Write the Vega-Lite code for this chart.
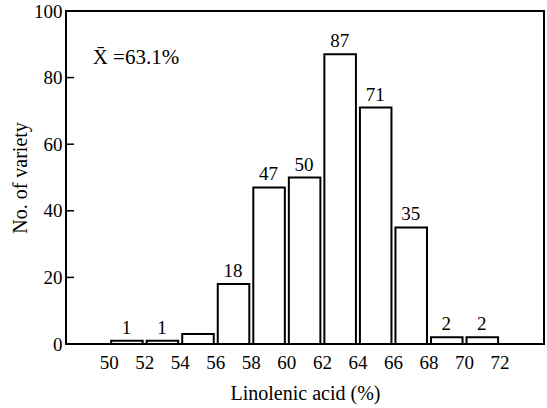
{
  "$schema": "https://vega.github.io/schema/vega-lite/v6.json",
  "width": 478,
  "height": 333,
  "autosize": "none",
  "padding": {"left": 66, "top": 11, "right": 3, "bottom": 64},
  "background": "white",
  "config": {
    "view": {"stroke": "black", "strokeWidth": 2},
    "font": "Liberation Serif",
    "axis": {"labelFont": "Liberation Serif", "titleFont": "Liberation Serif", "labelColor": "black", "titleColor": "black", "titleFontWeight": "normal", "grid": false, "domain": false}
  },
  "datasets": {
    "bins": [
      {"start": 50, "end": 52, "n": 1, "label": "1"},
      {"start": 52, "end": 54, "n": 1, "label": "1"},
      {"start": 54, "end": 56, "n": 3, "label": ""},
      {"start": 56, "end": 58, "n": 18, "label": "18"},
      {"start": 58, "end": 60, "n": 47, "label": "47"},
      {"start": 60, "end": 62, "n": 50, "label": "50"},
      {"start": 62, "end": 64, "n": 87, "label": "87"},
      {"start": 64, "end": 66, "n": 71, "label": "71"},
      {"start": 66, "end": 68, "n": 35, "label": "35"},
      {"start": 68, "end": 70, "n": 2, "label": "2"},
      {"start": 70, "end": 72, "n": 2, "label": "2"}
    ],
    "yticks": [{"v": 20}, {"v": 40}, {"v": 60}, {"v": 80}],
    "note": [{"x": 49.1, "y": 86, "t": "X̄ =63.1%"}]
  },
  "layer": [
    {
      "data": {"name": "bins"},
      "mark": {"type": "bar", "fill": "white", "stroke": "black", "strokeWidth": 2, "binSpacing": 4},
      "encoding": {
        "x": {"field": "start", "type": "quantitative", "bin": "binned",
              "scale": {"domain": [47.6, 74.5], "nice": false, "zero": false},
              "axis": {"values": [50, 52, 54, 56, 58, 60, 62, 64, 66, 68, 70, 72], "ticks": false, "labelPadding": 9, "labelFont": "Liberation Serif", "labelFontSize": 19, "title": "Linolenic acid (%)", "titleFont": "Liberation Serif", "titleFontSize": 20, "titlePadding": 11, "labelFlush": false}},
        "x2": {"field": "end"},
        "y": {"field": "n", "type": "quantitative",
              "scale": {"domain": [0, 100], "nice": false},
              "axis": {"values": [0, 20, 40, 60, 80, 100], "ticks": false, "labelPadding": 4, "labelFont": "Liberation Serif", "labelFontSize": 19, "title": "No. of variety", "titleFont": "Liberation Serif", "titleFontSize": 20, "titlePadding": 3, "labelFlush": false}}
      }
    },
    {
      "data": {"name": "yticks"},
      "mark": {"type": "tick", "orient": "horizontal", "size": 16, "thickness": 1.5, "color": "black", "opacity": 1, "clip": true},
      "encoding": {
        "x": {"datum": 47.6, "type": "quantitative"},
        "y": {"field": "v", "type": "quantitative"}
      }
    },
    {
      "data": {"name": "bins"},
      "transform": [{"calculate": "(datum.start + datum.end) / 2", "as": "mid"}],
      "mark": {"type": "text", "baseline": "bottom", "dy": -3, "fontSize": 19, "font": "Liberation Serif", "color": "black"},
      "encoding": {
        "x": {"field": "mid", "type": "quantitative"},
        "y": {"field": "n", "type": "quantitative"},
        "text": {"field": "label"}
      }
    },
    {
      "data": {"name": "note"},
      "mark": {"type": "text", "align": "left", "baseline": "middle", "fontSize": 21, "font": "Liberation Serif", "color": "black"},
      "encoding": {
        "x": {"field": "x", "type": "quantitative"},
        "y": {"field": "y", "type": "quantitative"},
        "text": {"field": "t"}
      }
    }
  ]
}
